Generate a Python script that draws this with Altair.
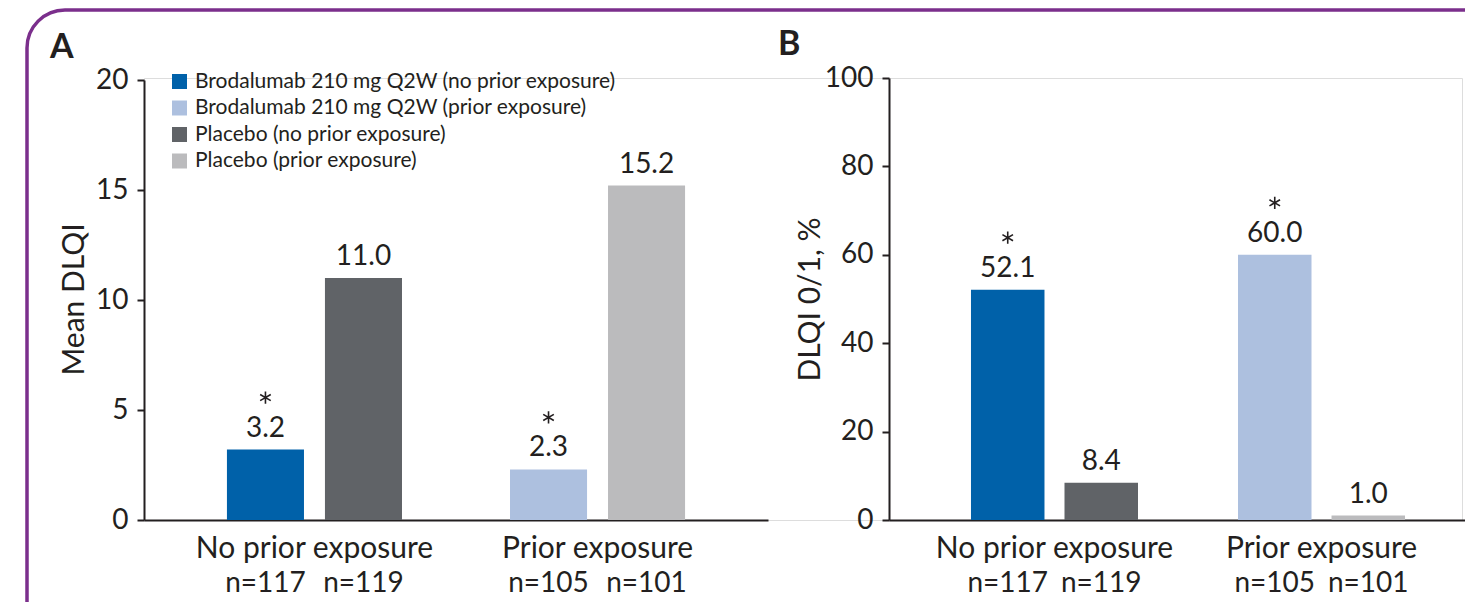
import altair as alt
import pandas as pd

# ---------------- data ----------------
groups = ["No prior exposure", "No prior exposure", "Prior exposure", "Prior exposure"]
arms = ["Brodalumab", "Placebo", "Brodalumab", "Placebo"]
series = [
    "Brodalumab 210 mg Q2W (no prior exposure)",
    "Placebo (no prior exposure)",
    "Brodalumab 210 mg Q2W (prior exposure)",
    "Placebo (prior exposure)",
]
n_labels = ["n=117", "n=119", "n=105", "n=101"]
mean_dlqi = [3.2, 11.0, 2.3, 15.2]
dlqi_01_pct = [52.1, 8.4, 60.0, 1.0]
stars = ["*", "", "*", ""]

legend_order = [
    "Brodalumab 210 mg Q2W (no prior exposure)",
    "Brodalumab 210 mg Q2W (prior exposure)",
    "Placebo (no prior exposure)",
    "Placebo (prior exposure)",
]
legend_colors = ["#0061A9", "#ADC0DF", "#606367", "#BBBBBD"]
group_order = ["No prior exposure", "Prior exposure"]
arm_order = ["Brodalumab", "Placebo"]
panel_letters = ["A", "B"]

INK = "#231F20"
FONT = "Lato"
ASTERISK = "M0,-1L0,1M-0.866,-0.5L0.866,0.5M-0.866,0.5L0.866,-0.5"


def frame_of(values):
    return pd.DataFrame({
        "group": groups, "arm": arms, "series": series,
        "n": n_labels, "value": values, "star": stars,
    })


def panel(values, y_title, y_domain, y_ticks, y_range, x_range, pad_in, pad_out,
          axis_offset, title_x, legend):
    base = alt.Chart(frame_of(values)).encode(
        x=alt.X(
            "group:N", sort=group_order,
            scale=alt.Scale(range=x_range, paddingInner=pad_in, paddingOuter=pad_out),
            axis=alt.Axis(orient="bottom", title=None, labelAngle=0, labelFontSize=30,
                          labelPadding=13, ticks=False, domainColor=INK, domainWidth=2,
                          labelColor=INK, labelLimit=0, labelFont=FONT),
        ),
        xOffset=alt.XOffset("arm:N", sort=arm_order,
                            scale=alt.Scale(paddingInner=0.214, paddingOuter=0)),
        y=alt.Y(
            "value:Q",
            scale=alt.Scale(domain=y_domain, range=y_range, nice=False, zero=True),
            axis=alt.Axis(orient="left", offset=axis_offset, values=y_ticks, grid=False,
                          title=y_title, titleFontSize=30, titleFont=FONT,
                          titleFontWeight="normal", titleColor=INK, titleX=title_x,
                          titleY=221, titleBaseline="middle", titleAngle=-90,
                          labelFontSize=28, labelFont=FONT, labelColor=INK,
                          labelPadding=9, tickSize=7, tickWidth=2, tickColor=INK,
                          domainColor=INK, domainWidth=2),
        ),
    )
    bars = base.mark_bar().encode(
        color=alt.Color("series:N",
                        scale=alt.Scale(domain=legend_order, range=legend_colors),
                        legend=legend),
    )
    value_text = base.mark_text(fontSize=28, font=FONT, color=INK, baseline="alphabetic",
                                dy=-13).encode(text=alt.Text("value:Q", format=".1f"))
    star_mark = base.transform_filter(alt.datum.star == "*").mark_point(
        shape=ASTERISK, size=150, filled=False, stroke=INK, strokeWidth=1.6,
        opacity=1, yOffset=-52)
    n_text = base.mark_text(fontSize=28, font=FONT, color=INK,
                            baseline="alphabetic").encode(text="n:N", y=alt.value(514))
    return alt.layer(bars, value_text, star_mark, n_text)


legend = alt.Legend(orient="none", legendX=25, legendY=-7, title=None,
                    symbolType="square", symbolSize=225, symbolStrokeWidth=0,
                    labelFontSize=21, labelFont=FONT, labelColor=INK, rowPadding=4.5,
                    labelOffset=5, padding=0, labelLimit=0)

panel_a = panel(mean_dlqi, "Mean DLQI", [0, 20], [0, 5, 10, 15, 20], [442, 2],
                [0, 624], 0.3816, 0.293, 0, -70, legend)
panel_b = panel(dlqi_01_pct, "DLQI 0/1, %", [0, 100], [0, 20, 40, 60, 80, 100], [442, 0],
                [745, 1343], 0.3745, 0.307, -745, -79, None)

frame = alt.Chart(pd.DataFrame({"k": [0]})).mark_rect(
    fillOpacity=0, stroke="#7B2F8C", strokeWidth=3.5, cornerRadius=38
).encode(x=alt.value(-117), x2=alt.value(1600), y=alt.value(-68), y2=alt.value(800))

letters_df = pd.DataFrame({"letter": panel_letters})
letter_a = alt.Chart(letters_df).transform_filter(alt.datum.letter == "A").mark_text(
    fontSize=34, font=FONT, fontWeight="bold", color=INK, align="left",
    baseline="alphabetic").encode(text="letter:N", x=alt.value(-94), y=alt.value(-20))
letter_b = alt.Chart(letters_df).transform_filter(alt.datum.letter == "B").mark_text(
    fontSize=34, font=FONT, fontWeight="bold", color=INK, align="left",
    baseline="alphabetic").encode(text="letter:N", x=alt.value(634), y=alt.value(-23))

chart = alt.layer(frame, panel_a, panel_b, letter_a, letter_b).resolve_scale(
    x="independent", y="independent", xOffset="independent"
).properties(
    width=1318, height=442,
    autosize=alt.AutoSizeParams(type="none"),
    padding={"left": 136, "top": 70, "right": 3, "bottom": 82},
    background="white",
).configure_view(stroke=None).configure(font=FONT)

chart.save("out.html", embed_options={"renderer": "svg", "actions": False})
